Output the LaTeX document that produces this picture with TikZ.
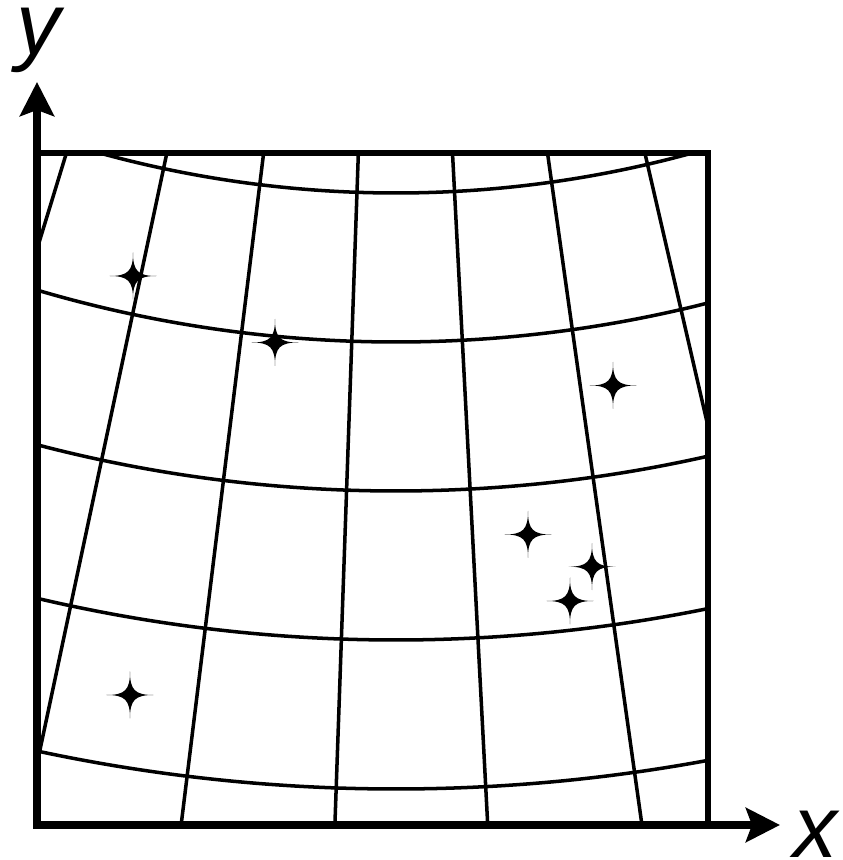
\documentclass[tikz,border=0pt]{standalone}
\usepackage{fontspec}
\setmainfont{Liberation Sans}
\usetikzlibrary{arrows.meta}

\tikzset{
  axis/.style={line width=2pt, >={Stealth[length=3.4mm, width=3.4mm, inset=0.6mm]}, <->},
  frame/.style={line width=1.5pt},
  gridline/.style={line width=1pt},
  axislabel/.style={font=\fontsize{25}{30}\selectfont\itshape, inner sep=0pt, anchor=base},
  spark/.pic={
    \fill (0,0.235) .. controls (0,0.05) and (0.05,0) .. (0.235,0)
      .. controls (0.05,0) and (0,-0.05) .. (0,-0.235)
      .. controls (0,-0.05) and (-0.05,0) .. (-0.235,0)
      .. controls (-0.05,0) and (0,0.05) .. cycle;
  }
}

\begin{document}
\begin{tikzpicture}
  \useasboundingbox (-0.37,-0.35) rectangle (8.06,8.25);
  \coordinate (O) at (0,0);
  \coordinate (ytip) at (0,7.43);
  \coordinate (xtip) at (7.43,0);
  \coordinate (corner) at (6.71,6.72);
  \coordinate (fc) at (3.59,17.5);
  % curved grid
  \begin{scope}
    \clip (O) rectangle (corner);
    \foreach \a in {253,258,...,283}
      \draw[gridline] (fc) -- ++(\a:19);
    \foreach \r in {11.18,12.67,14.16,15.65,17.14}
      \draw[gridline] (fc) ++(245:\r) arc[start angle=245, end angle=295, radius=\r];
  \end{scope}
  \draw[frame] (O) rectangle (corner);
  \draw[axis] (ytip) |- (xtip);
  \node[axislabel] (ylabel) at (0.01,7.70) {y};
  \node[axislabel] (xlabel) at (7.78,-0.33) {x};
  % points
  \foreach \sx/\sy in {0.96/5.49, 2.38/4.825, 5.76/4.395, 4.91/2.905, 5.55/2.583, 5.33/2.24, 0.93/1.30}
    \pic at (\sx,\sy) {spark};
\end{tikzpicture}
\end{document}
